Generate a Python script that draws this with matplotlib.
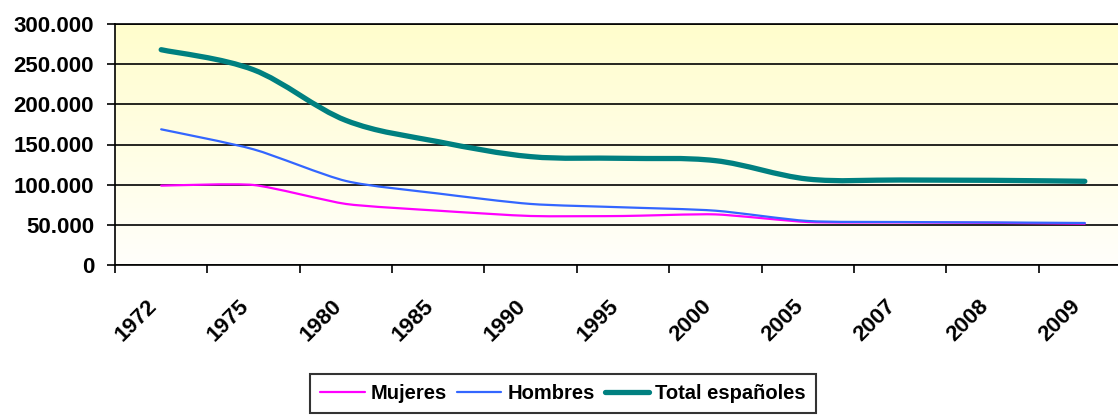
import matplotlib
matplotlib.use("Agg")
import matplotlib.pyplot as plt
import numpy as np
from matplotlib.path import Path
from matplotlib.patches import PathPatch
from matplotlib.lines import Line2D
from matplotlib.colors import LinearSegmentedColormap
from matplotlib.ticker import FuncFormatter, FixedLocator

# data
years = ['1972', '1975', '1980', '1985', '1990', '1995', '2000', '2005', '2007', '2008', '2009']
mujeres = [98800, 99600, 76000, 67600, 61000, 61000, 63000, 53500, 53000, 52500, 51500]
hombres = [168900, 144000, 104600, 89000, 76000, 71800, 67600, 54800, 53500, 53000, 52300]
total = [268000, 243000, 180000, 153500, 134900, 132800, 129900, 107000, 105800, 105400, 104200]

plt.rcParams['font.family'] = ['Liberation Sans', 'DejaVu Sans']
plt.rcParams['font.weight'] = 'bold'


def smooth_path(xs, ys, k):
    # Excel style smoothed line: cubic bezier segments through the points
    pts = np.column_stack([xs, ys]).astype(float)
    n = len(pts)
    verts = [pts[0]]
    codes = [Path.MOVETO]
    for i in range(n - 1):
        p0 = pts[i - 1] if i > 0 else pts[i]
        p1 = pts[i]
        p2 = pts[i + 1]
        p3 = pts[i + 2] if i + 2 < n else pts[i + 1]
        c1 = p1 + (p2 - p0) * k
        c2 = p2 - (p3 - p1) * k
        verts += [c1, c2, p2]
        codes += [Path.CURVE4] * 3
    return Path(verts, codes)


fig = plt.figure(figsize=(11.18, 4.15), dpi=100)
ax = fig.add_axes([115 / 1118, 150 / 415, 1016 / 1118, 241 / 415])

# yellow to white gradient background
cmap_bg = LinearSegmentedColormap.from_list('bg', ['#FFFDCC', '#FFFFFB'])
ax.imshow(np.linspace(0, 1, 256).reshape(-1, 1), cmap=cmap_bg, aspect='auto',
          extent=[0, 1, 0, 1], transform=ax.transAxes, zorder=-10)

x = np.arange(len(years))
series = [(mujeres, '#FF00FF', 1.6, 0.1, 'Mujeres'),
          (hombres, '#3366FF', 1.6, 0.12, 'Hombres'),
          (total, '#008080', 3.8, 1 / 6, 'Total españoles')]
handles = []
for vals, col, lw, k, name in series:
    ax.add_patch(PathPatch(smooth_path(x, vals, k), facecolor='none', edgecolor=col,
                           lw=lw, capstyle='round', zorder=3))
    handles.append(Line2D([], [], color=col, lw=lw, solid_capstyle='round', label=name))

ax.set_xlim(-0.5, len(years) - 0.5)
ax.set_ylim(0, 300000)
ax.set_yticks(np.arange(0, 300001, 50000))
ax.yaxis.set_major_formatter(FuncFormatter(lambda v, p: f'{v:,.0f}'.replace(',', '.')))
ax.yaxis.grid(True, color='black', lw=1.2)
ax.set_axisbelow(True)

ax.xaxis.set_major_locator(FixedLocator(np.arange(-0.5, len(years), 1.0)))
ax.set_xticklabels([])
ax.set_xticks(x, minor=True)
ax.set_xticklabels(years, minor=True, rotation=45, ha='right', fontsize=16, fontweight='bold')
ax.tick_params(axis='x', which='major', length=6, width=1.2, color='black')
ax.tick_params(axis='x', which='minor', length=0, pad=22)
ax.tick_params(axis='y', length=6, width=1.2, pad=9, labelsize=16)

for side in ['left', 'bottom', 'top']:
    ax.spines[side].set_color('black')
    ax.spines[side].set_linewidth(1.2)
ax.spines['right'].set_visible(False)

leg = fig.legend(handles=handles, ncol=3, loc='upper center',
                 bbox_to_anchor=(563 / 1118, 1 - 374 / 415), frameon=True,
                 fancybox=False, edgecolor='black', fontsize=14.5,
                 handlelength=2.2, handletextpad=0.3, columnspacing=0.5,
                 borderpad=0.5, borderaxespad=0)
leg.get_frame().set_linewidth(1.5)
for t in leg.get_texts():
    t.set_fontweight('bold')

fig.savefig('out.png', dpi=100)
